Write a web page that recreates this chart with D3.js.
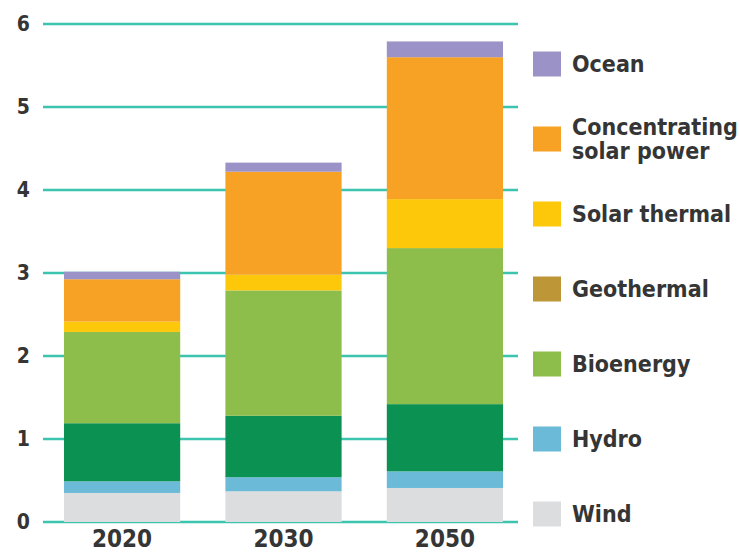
<!DOCTYPE html>
<html>
<head>
<meta charset="utf-8">
<script src="https://cdn.jsdelivr.net/npm/d3@7"></script>
<style>
  html, body { margin: 0; padding: 0; background: #fff; }
  svg { display: block; }
  text { font-family: "DejaVu Sans Condensed", "DejaVu Sans", sans-serif; font-weight: bold; fill: #353535; }
</style>
</head>
<body>
<svg id="chart" width="740" height="555"></svg>
<script>
// ---- data ----
const years = ["2020", "2030", "2050"];
const seriesKeys = ["Wind", "Hydro", "Geothermal", "Bioenergy", "Solar thermal", "Concentrating solar power", "Ocean"];
const wind         = [0.35, 0.37, 0.41];
const hydro        = [0.14, 0.17, 0.20];
const geothermal   = [0.70, 0.74, 0.81];
const bioenergy    = [1.10, 1.51, 1.88];
const solarThermal = [0.125, 0.19, 0.59];
const csp          = [0.51, 1.24, 1.71];
const ocean        = [0.09, 0.11, 0.19];
const yTicks = [0, 1, 2, 3, 4, 5, 6];

// bar segment colours (bottom to top)
const barColors = ["#dcdddf", "#6bbbd8", "#0b9151", "#8dbd4b", "#fdc70a", "#f7a125", "#9b93c7"];
// legend entries (top to bottom)
const legendItems = [
  { label: ["Ocean"], color: "#9b93c7" },
  { label: ["Concentrating", "solar power"], color: "#f7a125" },
  { label: ["Solar thermal"], color: "#fdc70a" },
  { label: ["Geothermal"], color: "#bd9638" },
  { label: ["Bioenergy"], color: "#8dbd4b" },
  { label: ["Hydro"], color: "#6bbbd8" },
  { label: ["Wind"], color: "#dcdddf" }
];

const seriesValues = [wind, hydro, geothermal, bioenergy, solarThermal, csp, ocean];
const table = years.map((yr, i) => {
  const row = { year: yr };
  seriesKeys.forEach((k, j) => row[k] = seriesValues[j][i]);
  return row;
});

// ---- layout ----
const svg = d3.select("#chart");
const gridX0 = 43, gridX1 = 518;
const y = d3.scaleLinear().domain([0, 6]).range([522, 24]);
const x = d3.scaleBand().domain(years).range([43, 524]).paddingInner(0.28).paddingOuter(0.13);
const color = d3.scaleOrdinal().domain(seriesKeys).range(barColors);

// gridlines
svg.append("g").selectAll("line").data(yTicks).join("line")
  .attr("x1", gridX0).attr("x2", gridX1)
  .attr("y1", d => y(d)).attr("y2", d => y(d))
  .attr("stroke", "#3cc4ae").attr("stroke-width", 2.6);

// y tick labels
svg.append("g").selectAll("text").data(yTicks).join("text")
  .attr("x", 30).attr("y", d => y(d))
  .attr("text-anchor", "end").attr("dominant-baseline", "central")
  .style("font-size", "21px")
  .text(d => d);

// stacked bars
const stacked = d3.stack().keys(seriesKeys)(table);
svg.append("g").selectAll("g").data(stacked).join("g")
  .attr("fill", d => color(d.key))
  .selectAll("rect").data(d => d).join("rect")
  .attr("x", d => x(d.data.year))
  .attr("width", x.bandwidth())
  .attr("y", d => y(d[1]))
  .attr("height", d => y(d[0]) - y(d[1]));

// x labels
svg.append("g").selectAll("text").data(years).join("text")
  .attr("x", d => x(d) + x.bandwidth() / 2)
  .attr("y", 547)
  .attr("text-anchor", "middle")
  .style("font-size", "24px")
  .text(d => d);

// legend
const legY0 = 64, legStep = 75;
const leg = svg.append("g").selectAll("g").data(legendItems).join("g")
  .attr("transform", (d, i) => `translate(0,${legY0 + i * legStep})`);
leg.append("rect")
  .attr("x", 533).attr("y", -12.5).attr("width", 28).attr("height", 25)
  .attr("fill", d => d.color);
leg.each(function(d) {
  const g = d3.select(this);
  const n = d.label.length;
  const lh = 24;
  d.label.forEach((t, k) => {
    g.append("text")
      .attr("x", 572)
      .attr("y", 8 + (k - (n - 1) / 2) * lh)
      .style("font-size", "23px")
      .text(t);
  });
});
</script>
</body>
</html>
